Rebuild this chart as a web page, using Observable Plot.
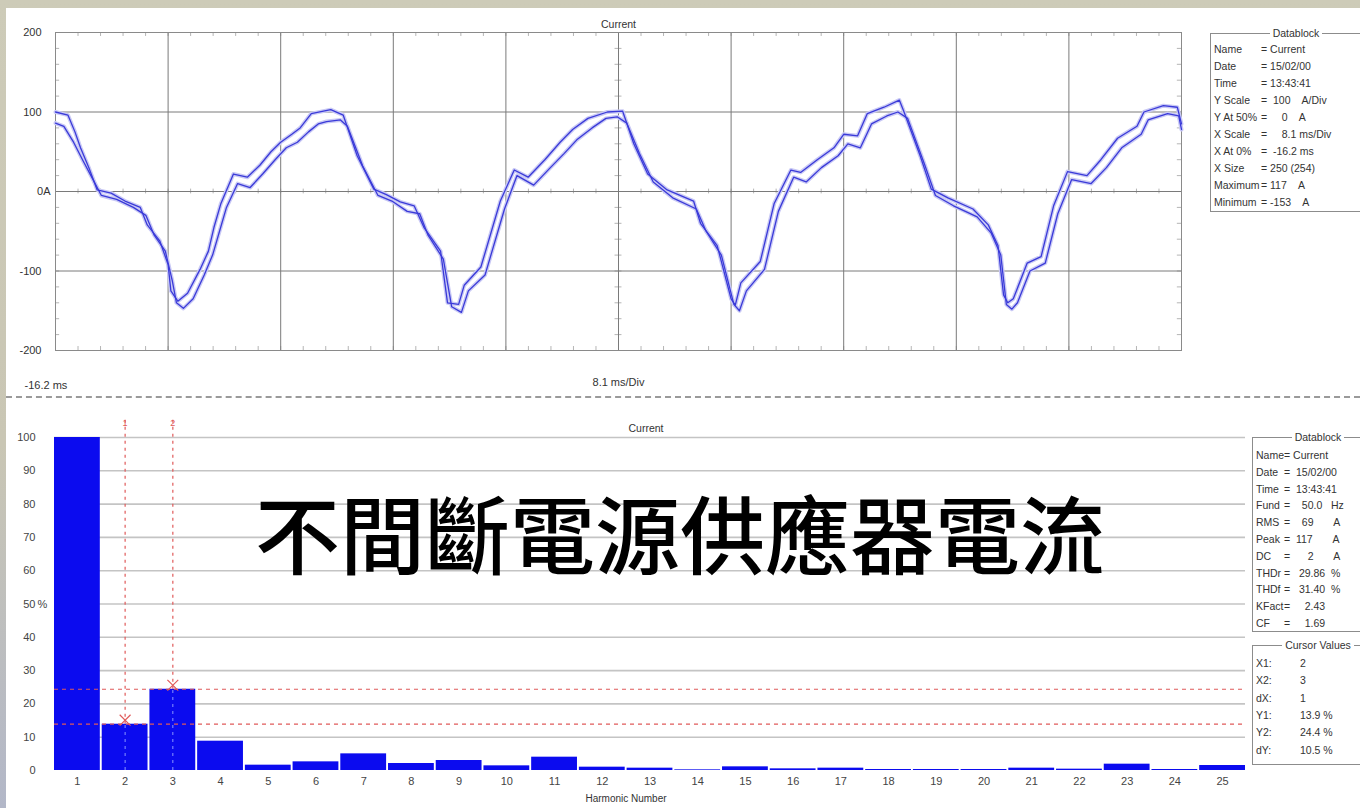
<!DOCTYPE html>
<html>
<head>
<meta charset="utf-8">
<script src="https://cdn.jsdelivr.net/npm/d3@7"></script>
<script src="https://cdn.jsdelivr.net/npm/@observablehq/plot@0.6"></script>
<style>
  html, body { margin: 0; padding: 0; }
  body { width: 1360px; height: 808px; position: relative; overflow: hidden;
         background: linear-gradient(to bottom, #cdcbb8 0%, #c9c6b4 55%, #b2b7c8 100%);
         font-family: "Liberation Sans", Arial, sans-serif; }
  #panel { position: absolute; left: 6px; top: 8px; width: 1354px; height: 800px; background: #fff; }
  #top, #bottom { position: absolute; left: 0; }
  #top { top: 0; } #bottom { top: 400px; }
  #sep { position: absolute; left: 6px; top: 396px; width: 1354px; border-top: 2px dashed #9a9a9a; }
  .box { position: absolute; border: 1px solid #8c8c8c; box-shadow: inset 1px 1px 0 #fff; }
  .box .ttl { position: absolute; top: -8px; left: 0; right: 0; text-align: center; font-size: 10.5px; color: #333; line-height: 14px; }
  .box .ttl span { background: #fff; padding: 0 3px; }
  .row { position: absolute; white-space: pre; font-size: 10.5px; color: #333; line-height: 14px; }
  #title { position: absolute; left: 180px; width: 1000px; top: 488px; text-align: center;
           font-family: "Noto Sans CJK TC", "Noto Sans CJK SC", sans-serif; font-size: 85px; font-weight: 500;
           line-height: 85px; color: #000; letter-spacing: 0px; }
</style>
</head>
<body>
<div id="panel"></div>
<div id="top"></div>
<div id="sep"></div>
<div id="bottom"></div>
<div id="title">不間斷電源供應器電流</div>
<script>
// ---------------- DATA ----------------
// Upper plot: current waveform, two overlapping traces (time in ms, current in A)
const traceA_t = [-16.2,-15.3,-14.8,-14.4,-13.8,-13.2,-12.2,-11.2,-10.1,-9.6,-8.7,-8.1,-7.9,-7.4,-6.7,-5.8,-5.2,-4.8,-4.3,-3.4,-2.4,-1.5,-0.7,0,0.8,1.4,2.2,3.6,4.5,5.5,6.7,7.6,8.6,9.6,10.3,11.5,12.0,12.8,13.2,14.4,15.8,16.8,17.8,19.0,20.1,21.0,22.1,23.5,24.6,25.4,26.4,27.8,29.7,30.2,31.4,32.4,32.7,33.1,34.5,35.5,36.7,37.4,38.6,39.8,40.5,41.5,42.2,43.4,44.5,44.8,46.0,46.8,48.0,49.8,50.9,51.6,52.0,52.3,52.7,53.7,54.7,55.6,56.6,58.0,59.0,60.2,61.6,62.1,63.5,64.5,64.8];
const traceA_i = [100,96,75,55,30,2,-2,-12,-20,-42,-62,-92,-125,-138,-128,-98,-75,-45,-15,22,18,33,50,62,72,80,98,103,96,45,3,-4,-13,-18,-45,-75,-140,-142,-118,-95,-12,27,18,40,62,78,92,100,101,60,22,2,-12,-40,-68,-135,-143,-115,-88,-15,27,24,40,55,72,70,98,106,115,102,45,3,-8,-22,-42,-68,-130,-140,-135,-90,-82,-18,25,20,40,67,82,100,108,106,85];
const traceB_t = [-16.2,-15.6,-14.9,-14.2,-13.5,-12.9,-11.8,-10.6,-9.7,-9.1,-8.3,-7.8,-7.5,-7.0,-6.3,-5.5,-4.9,-4.4,-3.9,-3.1,-2.2,-1.3,-0.4,0.4,1.2,2.0,2.7,3.3,4.3,4.8,5.9,7.0,8.0,9.1,10.0,10.6,11.7,12.3,13.0,13.5,14.7,16.1,17.0,18.2,19.4,20.4,21.3,22.4,23.4,24.2,24.9,25.8,26.8,28.2,29.9,30.6,31.7,32.6,33.0,33.5,34.8,35.8,36.9,37.8,38.9,40.1,40.8,41.7,42.5,43.6,44.4,45.1,46.3,47.1,48.4,50.1,51.1,51.8,52.2,52.6,53.0,53.9,55.0,55.9,56.9,58.3,59.4,60.5,61.9,62.4,63.8,64.6,64.8];
const traceB_i = [86,82,62,38,15,-5,-10,-20,-30,-55,-75,-112,-140,-147,-135,-105,-80,-50,-20,10,5,22,40,55,62,75,85,88,90,82,32,-5,-12,-25,-28,-55,-85,-145,-152,-125,-105,-22,20,8,30,48,65,80,92,94,86,48,12,-8,-22,-50,-80,-142,-150,-125,-98,-25,18,12,30,45,60,55,85,95,100,92,35,-5,-18,-32,-52,-80,-142,-148,-140,-100,-90,-28,15,10,30,55,72,90,98,95,78];
const topYTicks = [200, 100, 0, -100, -200];

// Lower plot: harmonic spectrum (% of fundamental)
const harmonicNumbers = [1,2,3,4,5,6,7,8,9,10,11,12,13,14,15,16,17,18,19,20,21,22,23,24,25];
const harmonicPercent = [100,13.9,24.4,8.8,1.6,2.6,5.0,2.1,3.0,1.4,4.0,1.0,0.7,0.2,1.1,0.5,0.7,0.3,0.3,0.3,0.7,0.4,1.9,0.3,1.5];
const bottomYTicks = [0,10,20,30,40,50,60,70,80,90,100];
const cursorHarmonic = [2, 3];
const cursorPercent = [13.9, 24.4];

// Datablock texts
const topBlockLabels = ["Name","Date","Time","Y Scale","Y At 50%","X Scale","X At 0%","X Size","Maximum","Minimum"];
const topBlockValues = ["= Current","= 15/02/00","= 13:43:41","=  100    A/Div","=     0    A","=     8.1 ms/Div","=  -16.2 ms","= 250 (254)","= 117    A","= -153    A"];
const botBlockLabels = ["Name","Date","Time","Fund","RMS","Peak","DC","THDr","THDf","KFact","CF"];
const botBlockValues = ["= Current","=  15/02/00","=  13:43:41","=    50.0   Hz","=    69       A","=  117       A","=      2       A","=   29.86  %","=   31.40  %","=     2.43","=     1.69"];
const cursorLabels = ["X1:","X2:","dX:","Y1:","Y2:","dY:"];
const cursorValues = ["2","3","1","13.9 %","24.4 %","10.5 %"];

// ---------------- TOP CHART ----------------
const A = traceA_t.map((t, i) => ({t, v: traceA_i[i]}));
const B = traceB_t.map((t, i) => ({t, v: traceB_i[i]}));
const majorX = d3.range(0, 11).map(i => -16.2 + 8.1 * i);
const minorX = d3.range(0, 51).map(i => -16.2 + 1.62 * i);
const minorY = d3.range(-200, 201, 20);
const fontStyle = {fontFamily: "Liberation Sans, Arial, sans-serif", fontSize: "11px", background: "transparent", color: "#333", overflow: "visible"};

const topPlot = Plot.plot({
  width: 1200, height: 400,
  marginLeft: 55, marginRight: 19, marginTop: 32, marginBottom: 50,
  style: fontStyle,
  x: {domain: [-16.2, 64.8], axis: null},
  y: {domain: [-200, 200], axis: null},
  marks: [
    // minor ticks
    Plot.ruleX(minorX, {x: d => d, y1: 200, y2: 195, stroke: "#b5b5b5"}),
    Plot.ruleX(minorX, {x: d => d, y1: -200, y2: -195, stroke: "#b5b5b5"}),
    Plot.ruleX(minorX, {x: d => d, y1: -3, y2: 3, stroke: "#b5b5b5"}),
    Plot.ruleY(minorY, {y: d => d, x1: -16.2, x2: -15.9, stroke: "#b5b5b5"}),
    Plot.ruleY(minorY, {y: d => d, x1: 24.05, x2: 24.55, stroke: "#b5b5b5"}),
    Plot.ruleY(minorY, {y: d => d, x1: 64.5, x2: 64.8, stroke: "#b5b5b5"}),
    // major grid
    Plot.ruleX(majorX, {x: d => d, stroke: "#7a7a7a", strokeWidth: 1}),
    Plot.ruleY([100, 0, -100], {stroke: "#7a7a7a", strokeWidth: 1}),
    Plot.frame({stroke: "#8a8a8a"}),
    // waveform traces (halo + line)
    Plot.line(A, {x: "t", y: "v", stroke: "#c9c9f5", strokeWidth: 4}),
    Plot.line(B, {x: "t", y: "v", stroke: "#c9c9f5", strokeWidth: 4}),
    Plot.line(A, {x: "t", y: "v", stroke: "#3a3ad8", strokeWidth: 1.3}),
    Plot.line(B, {x: "t", y: "v", stroke: "#3a3ad8", strokeWidth: 1.3}),
    // y labels
    Plot.text(topYTicks.filter(d => d !== 0), {x: -16.2, y: d => d, text: d => String(d), textAnchor: "end", dx: -14, fill: "#333"}),
    Plot.text([0], {x: -16.2, y: d => d, text: () => "0A", textAnchor: "end", dx: -5, fill: "#333"}),
    // titles
    Plot.text(["Current"], {frameAnchor: "top", dy: -12, fill: "#333", fontSize: 10.5}),
    Plot.text(["8.1 ms/Div"], {frameAnchor: "bottom", dy: 35, dx: 0, fill: "#333"}),
    Plot.text(["-16.2 ms"], {frameAnchor: "bottom-left", dy: 38, dx: -31, textAnchor: "start", fill: "#333"})
  ]
});
document.getElementById("top").appendChild(topPlot);

// ---------------- BOTTOM CHART ----------------
const H = harmonicNumbers.map((h, i) => ({h, v: harmonicPercent[i]}));
const C = cursorHarmonic.map((h, i) => ({h, v: cursorPercent[i], n: String(i + 1)}));

const botPlot = Plot.plot({
  width: 1250, height: 408,
  marginLeft: 54, marginRight: 5, marginTop: 37, marginBottom: 38,
  style: fontStyle,
  x: {type: "band", domain: harmonicNumbers, paddingInner: 0.04, paddingOuter: 0.0, align: 0, round: false},
  y: {domain: [0, 100], axis: null},
  marks: [
    Plot.ruleY(bottomYTicks.filter(d => d > 0), {y: d => d, stroke: "#c4c4c4", strokeWidth: 1.6}),
    Plot.barY(H, {x: "h", y: "v", fill: "#0b0bef"}),
    // cursor lines
    Plot.ruleY(cursorPercent, {y: d => d, stroke: "#e05a5a", strokeDasharray: "4,4", strokeWidth: 1.2}),
    Plot.ruleX(C, {x: "h", y1: 0, y2: "v", stroke: "#8a96ff", strokeDasharray: "3,4"}),
    Plot.ruleX(C, {x: "h", y1: "v", y2: 105.5, stroke: "#e05a5a", strokeDasharray: "3,4", strokeWidth: 1.2}),
    Plot.dot(C, {x: "h", y: "v", symbol: "times", r: 5, stroke: "#e05a5a", strokeWidth: 1.2, dy: -4}),
    Plot.text(C, {x: "h", y: 105.5, text: "n", fill: "#e05a5a", fontSize: 9, dy: 4}),
    // axes / labels
    Plot.axisX({tickSize: 0, tickPadding: 7, label: null, fill: "#444"}),
    Plot.text(bottomYTicks, {frameAnchor: "left", y: d => d, text: d => String(d), textAnchor: "end", dx: -19, fill: "#444"}),
    Plot.text([50], {frameAnchor: "left", y: d => d, text: () => "%", textAnchor: "start", dx: -17, fill: "#444"}),
    Plot.text(["Current"], {frameAnchor: "top", dy: -13, dx: -4, fill: "#333", fontSize: 10.5}),
    Plot.text(["Harmonic Number"], {frameAnchor: "bottom", dy: 31, dx: -24, fill: "#333", fontSize: 10})
  ]
});
document.getElementById("bottom").appendChild(botPlot);

// ---------------- DATABLOCKS (HTML) ----------------
function makeBox(left, top, width, height, title, labels, values, firstRowCenter, spacing, valueX) {
  const box = document.createElement("div");
  box.className = "box";
  Object.assign(box.style, {left: left + "px", top: top + "px", width: width + "px", height: height + "px"});
  const ttl = document.createElement("div");
  ttl.className = "ttl";
  ttl.innerHTML = "<span>" + title + "</span>";
  box.appendChild(ttl);
  document.body.appendChild(box);
  labels.forEach((lab, i) => {
    const cy = firstRowCenter + spacing * i;
    const l = document.createElement("div");
    l.className = "row"; l.textContent = lab;
    Object.assign(l.style, {left: (left + 4) + "px", top: (cy - 7) + "px"});
    document.body.appendChild(l);
    const v = document.createElement("div");
    v.className = "row"; v.textContent = values[i];
    Object.assign(v.style, {left: valueX + "px", top: (cy - 7) + "px"});
    document.body.appendChild(v);
  });
}
makeBox(1210, 33, 170, 177, "Datablock", topBlockLabels, topBlockValues, 49, 17, 1261);
makeBox(1252, 437, 130, 193, "Datablock", botBlockLabels, botBlockValues, 455, 16.8, 1284);
makeBox(1252, 645, 130, 118, "Cursor Values", cursorLabels, cursorValues, 663, 17.3, 1300);
</script>
</body>
</html>
